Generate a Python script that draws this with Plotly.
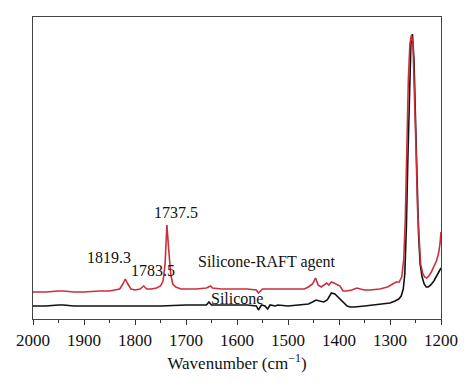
import plotly.graph_objects as go

# Wavenumber (cm-1) and relative absorbance
raft_wn = [2000, 1975, 1950, 1940, 1920, 1900, 1870, 1850, 1840, 1830, 1825, 1819, 1814, 1808, 1800, 1790,
           1783, 1777, 1768, 1758, 1750, 1745, 1741, 1737.5, 1734, 1730, 1726, 1720, 1710, 1700, 1680,
           1660, 1652, 1648, 1630, 1600, 1580, 1562, 1558, 1550, 1530, 1500, 1480, 1468, 1460, 1452,
           1446, 1441, 1435, 1428, 1424, 1420, 1415, 1410, 1403, 1398, 1392, 1385, 1375, 1365, 1358,
           1350, 1340, 1320, 1305, 1295, 1288, 1282, 1277, 1273, 1270, 1267, 1264, 1261, 1258, 1255,
           1252, 1249, 1246, 1243, 1240, 1236, 1232, 1228, 1224, 1219, 1214, 1209, 1205, 1202, 1200]
raft_ab = [27, 27, 28, 28, 27, 27, 28, 28, 29, 30, 34, 40, 35, 30, 29, 30,
           33, 30, 30, 31, 33, 38, 55, 94, 70, 45, 35, 32, 30, 30, 30,
           31, 33, 31, 30, 30, 30, 29, 26, 30, 30, 30, 30, 30, 32, 35,
           41, 34, 32, 35, 36, 34, 37, 36, 34, 33, 28, 28, 29, 31, 30,
           29, 29, 30, 32, 35, 37, 37, 42, 60, 100, 170, 240, 275, 284, 275,
           230, 170, 110, 75, 55, 46, 42, 41, 43, 47, 52, 58, 65, 75, 87]

sil_wn = [2000, 1975, 1950, 1940, 1920, 1900, 1850, 1800, 1750, 1700, 1660, 1655, 1650, 1620, 1600,
          1580, 1562, 1558, 1552, 1545, 1540, 1535, 1525, 1520, 1500, 1470, 1460, 1452, 1445, 1438,
          1430, 1423, 1415, 1408, 1402, 1396, 1390, 1384, 1378, 1370, 1350, 1330, 1310, 1300, 1290,
          1283, 1278, 1274, 1271, 1268, 1265, 1262, 1259, 1256, 1253, 1250, 1247, 1244, 1241, 1237,
          1233, 1229, 1225, 1220, 1214, 1208, 1204, 1200]
sil_ab = [13, 13, 14, 14, 13, 13, 13, 13, 13, 14, 14, 17, 14, 14, 14,
          14, 13, 9, 14, 13, 10, 14, 13, 14, 13, 14, 15, 17, 19, 18,
          17, 19, 26, 25, 22, 19, 15, 13, 12, 12, 13, 14, 15, 16, 18,
          20, 23, 30, 45, 90, 160, 230, 275, 285, 260, 200, 130, 85, 55, 42,
          35, 32, 32, 34, 38, 43, 47, 51]

peak_labels = ["1819.3", "1783.5", "1737.5"]
series_names = ["Silicone-RAFT agent", "Silicone"]
tick_vals = [2000, 1900, 1800, 1700, 1600, 1500, 1400, 1300, 1200]

SERIF = "Liberation Serif, Times New Roman, serif"

fig = go.Figure()
fig.add_trace(go.Scatter(x=sil_wn, y=sil_ab, mode="lines", name=series_names[1],
                         line=dict(color="#111111", width=1.6)))
fig.add_trace(go.Scatter(x=raft_wn, y=raft_ab, mode="lines", name=series_names[0],
                         line=dict(color="#c9303c", width=1.6)))

annots = [
    dict(x=1851, y=62, text=peak_labels[0]),
    dict(x=1764, y=49, text=peak_labels[1]),
    dict(x=1720, y=107, text=peak_labels[2]),
    dict(x=1541, y=57, text=series_names[0]),
    dict(x=1600, y=21, text=series_names[1]),
]
for a in annots:
    fig.add_annotation(x=a["x"], y=a["y"], text=a["text"], showarrow=False,
                       font=dict(family=SERIF, size=16, color="#111111"),
                       xanchor="center", yanchor="middle")

# the page body has an 8px margin; compensate so the plot area lands where the reference has it
fig.update_layout(
    width=466, height=382,
    margin=dict(l=25, r=33, t=9, b=71),
    paper_bgcolor="white", plot_bgcolor="white",
    showlegend=False,
    font=dict(family=SERIF, color="#111111"),
)
fig.update_xaxes(
    range=[2000, 1200], tickvals=tick_vals, ticks="outside", ticklen=5, tickwidth=1,
    tickcolor="#333333", showline=True, linecolor="#444444", linewidth=1.2, mirror=True,
    showgrid=False, zeroline=False, tickfont=dict(family=SERIF, size=17, color="#111111"),
    minor=dict(dtick=50, ticks="outside", ticklen=3, tickcolor="#333333", showgrid=False),
    title=dict(text="Wavenumber (cm<sup>−1</sup>)", font=dict(family=SERIF, size=17, color="#111111"),
               standoff=8),
)
fig.update_yaxes(
    range=[0, 302], showticklabels=False, ticks="", showline=True, linecolor="#444444",
    linewidth=1.2, mirror=True, showgrid=False, zeroline=False,
)

fig.write_html("out.html")
